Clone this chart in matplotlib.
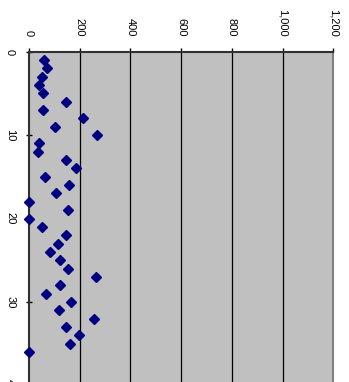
import matplotlib
matplotlib.use("Agg")
import matplotlib.pyplot as plt

plt.rcParams['font.family'] = ['Liberation Sans', 'DejaVu Sans']

# observation index and measured value
index = list(range(1, 37))
values = [59, 70, 53, 41, 55, 146, 57, 214, 102, 268,
          38, 35, 146, 184, 64, 159, 106, 0, 152, 0,
          53, 147, 116, 84, 124, 155, 264, 124, 67, 166,
          120, 258, 145, 197, 162, 0]

value_ticks = [0, 200, 400, 600, 800, 1000, 1200]
value_labels = ['0', '200', '400', '600', '800', '1,000', '1,200']
index_ticks = [0, 10, 20, 30, 40]

W, H = 349, 382
fig = plt.figure(figsize=(W / 100, H / 100), dpi=100)
left, right, top, bottom = 29, 333.3, 51.7, 385.3
ax = fig.add_axes([left / W, 1 - bottom / H, (right - left) / W, (bottom - top) / H])
ax.set_facecolor('#C0C0C0')

ax.plot(values, index, linestyle='none', marker='D', markersize=4.9,
        color='#000080', markeredgecolor='#000080', clip_on=False, zorder=3)

ax.set_xlim(0, 1200)
ax.set_ylim(40, 0)
ax.set_xticks(value_ticks)
ax.set_xticklabels(value_labels, rotation=-90, va='bottom', ha='center', fontsize=8)
ax.set_yticks(index_ticks)
ax.set_yticklabels([str(t) for t in index_ticks], rotation=-90, va='center', ha='right', fontsize=8)

ax.xaxis.tick_top()
ax.tick_params(axis='x', direction='out', length=3, width=1, color='#000000', pad=8)
ax.tick_params(axis='y', direction='inout', length=4, width=1, color='#000000', pad=8)

for v in value_ticks[1:-1]:
    ax.axvline(v, color='#000000', linewidth=0.9, zorder=1)

ax.spines['top'].set_color('#303030')
ax.spines['top'].set_linewidth(1.5)
ax.spines['left'].set_color('#303030')
ax.spines['left'].set_linewidth(1.5)
ax.spines['right'].set_color('#808080')
ax.spines['right'].set_linewidth(1.5)
ax.spines['bottom'].set_visible(False)

fig.savefig('out.png', dpi=100)
